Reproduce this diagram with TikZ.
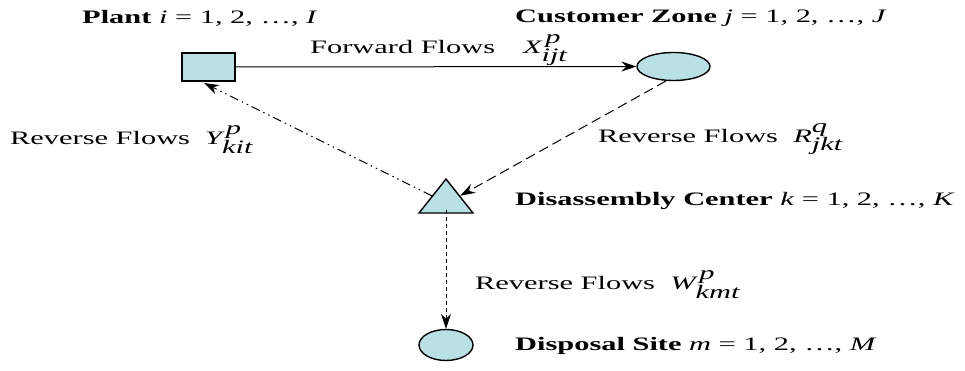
\documentclass[tikz,border=0pt]{standalone}
\usepackage{graphicx}
\usepackage{fontspec}
\setmainfont{Liberation Serif}
\usetikzlibrary{arrows.meta,shapes.geometric}
\definecolor{nodefill}{RGB}{185,224,228}
\newcommand{\hstretch}[1]{\scalebox{1.6}[1]{#1}}
\tikzset{
  shapebase/.style={draw=black, line width=1.4pt, fill=nodefill, inner sep=0pt},
  plantbox/.style={shapebase, rectangle, minimum width=53pt, minimum height=28pt},
  zonebox/.style={shapebase, ellipse, minimum width=73pt, minimum height=28pt},
  disposalbox/.style={shapebase, ellipse, minimum width=54pt, minimum height=31pt},
  centerbox/.style={shapebase, isosceles triangle, isosceles triangle apex angle=64, shape border rotate=90, minimum height=34pt, minimum width=54pt, isosceles triangle stretches},
  flow/.style={line width=1pt, -{Stealth[length=15pt,width=10pt,inset=5pt]}},
  lbl/.style={font=\fontsize{19}{21}\selectfont, inner sep=0pt, anchor=west},
  title/.style={font=\fontsize{19}{21}\selectfont, inner sep=0pt, anchor=west}
}
\begin{document}
\begin{tikzpicture}[x=1pt,y=-1pt]
\useasboundingbox (0,0) rectangle (965,371);
\node[plantbox] (plant) at (208.5,67) {};
\node[zonebox] (zone) at (673.5,66.5) {};
\node[centerbox] (center) at (446,200) {};
\node[disposalbox] (disp) at (446,345) {};

\node[title] (tplant) at (82,18) {\hstretch{\textbf{Plant} \textit{i} = 1, 2, …, \textit{I}}};
\node[title] (tzone) at (515,18) {\hstretch{\textbf{Customer Zone} \textit{j} = 1, 2, …, \textit{J}}};
\node[title] (tcenter) at (515,201) {\hstretch{\textbf{Disassembly Center} \textit{k} = 1, 2, …, \textit{K}}};
\node[title] (tdisp) at (515,346) {\hstretch{\textbf{Disposal Site} \textit{m} = 1, 2, …, \textit{M}}};

\node[lbl] (lx) at (310,50) {\hstretch{Forward Flows\enspace\, $\textit{X}^{\,\textit{p}}_{\textit{ijt}}$}};
\node[lbl] (ly) at (10,140) {\hstretch{Reverse Flows\enspace $\textit{Y}^{\,\textit{p}}_{\textit{kit}}$}};
\node[lbl] (lr) at (598,139) {\hstretch{Reverse Flows\enspace $\textit{R}^{\textit{q}}_{\textit{jkt}}$}};
\node[lbl] (lw) at (475,285) {\hstretch{Reverse Flows\enspace $\textit{W}^{\,\textit{p}}_{\textit{kmt}}$}};

\coordinate (ytip) at (204,83);
\coordinate (rstart) at (666,81);
\draw[flow] (plant.east) -- (zone.west);
\draw[flow, dash pattern=on 10pt off 5pt] (rstart) -- (center.right side);
\draw[flow, dash pattern=on 9pt off 4pt on 1.5pt off 4pt on 1.5pt off 4pt] (center.left side) -- (ytip);
\draw[flow, dash pattern=on 4pt off 3pt] ([yshift=4pt]center.south) -- (disp.north);
\end{tikzpicture}
\end{document}
